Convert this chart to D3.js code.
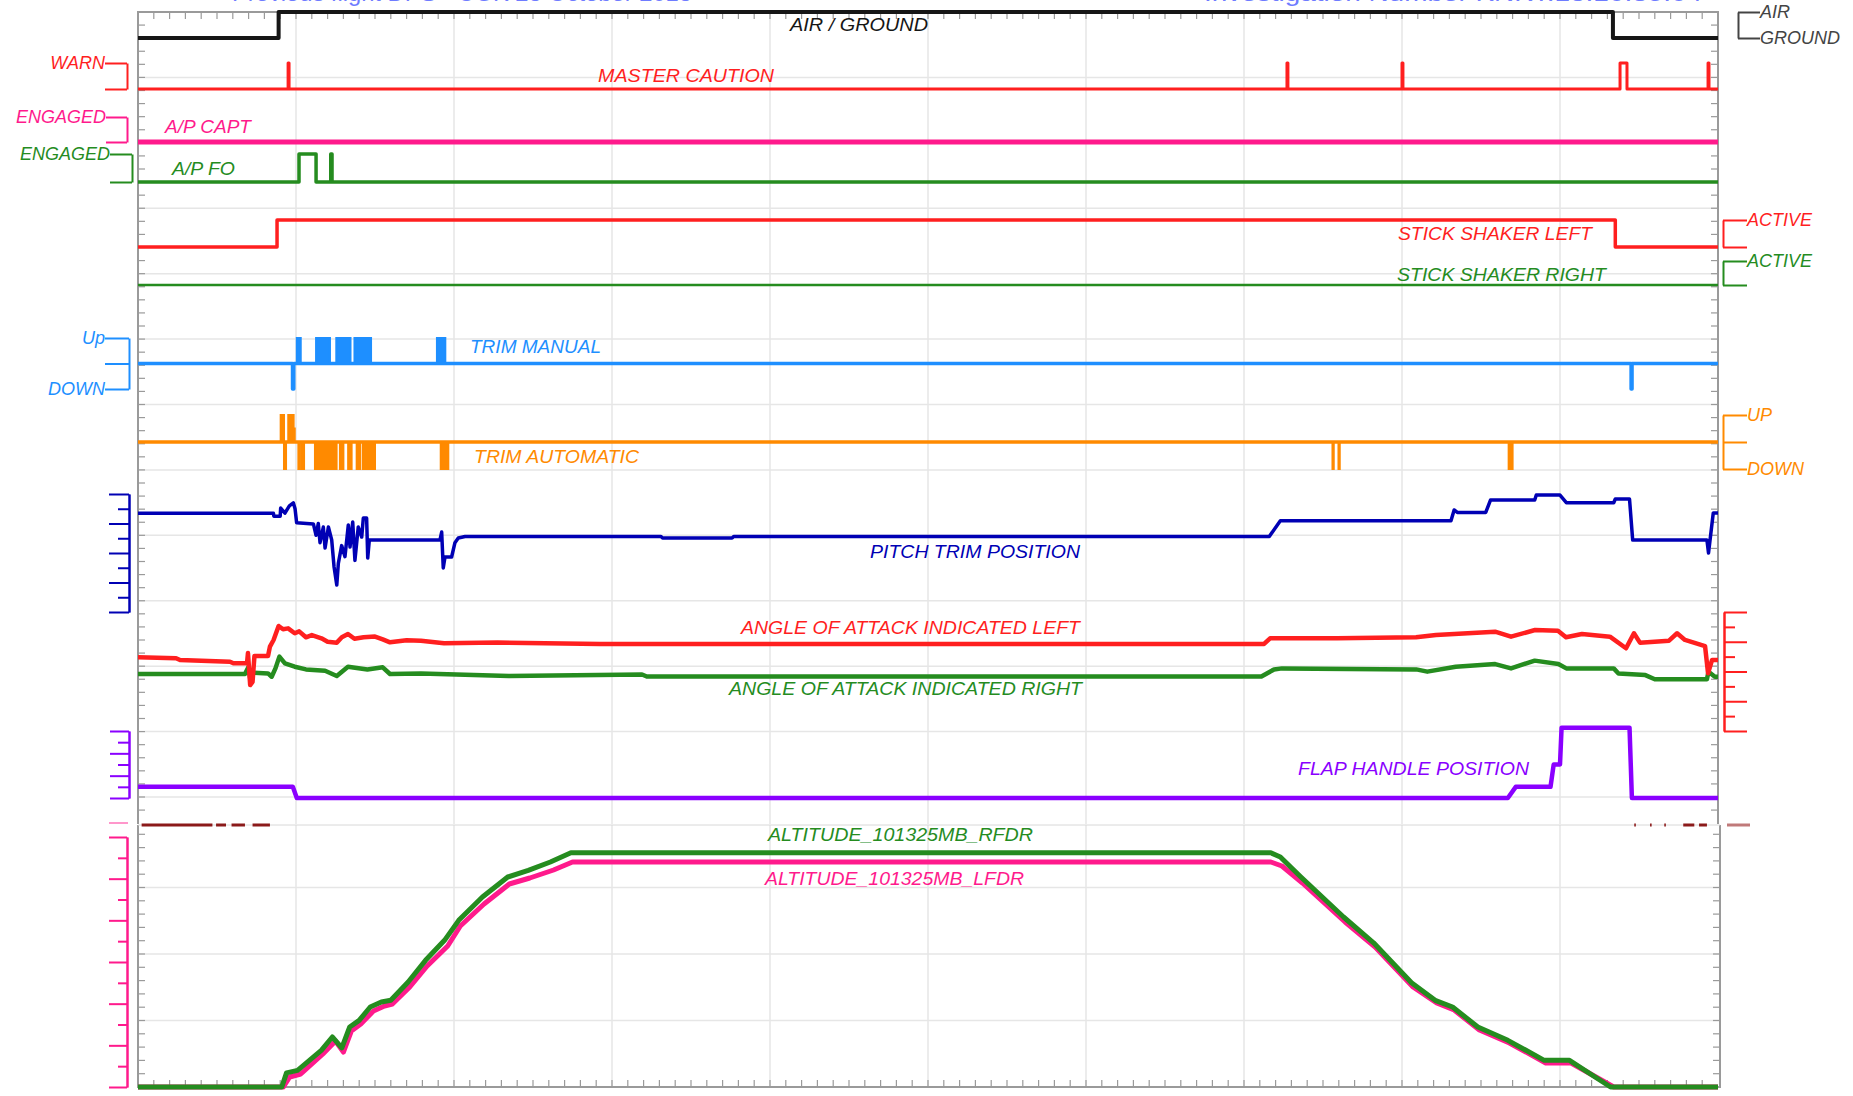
<!DOCTYPE html>
<html><head><meta charset="UTF-8">
<script src="https://cdn.jsdelivr.net/npm/d3@7"></script>
<style>
body{margin:0;background:#fff;overflow:hidden}
svg text{font-family:"Liberation Sans",Arial,sans-serif;font-style:italic}
.lab{font-size:19px}
.axlab{font-size:18px}
.title{font-size:22px;font-style:normal}
</style></head><body><svg id="chart" width="1853" height="1096"></svg>
<script>
// time runs 0..100 across the recording (10 grid divisions)
// step signals: [time, state]
const airGround = [[0,0],[8.9,1],[93.35,0],[100,0]];
const masterCaution = [[0,0],[9.5,1],[9.56,0],[72.72,1],[72.78,0],[80.0,1],[80.06,0],[93.8,1],[94.24,0],[99.37,1],[99.43,0],[100,0]];
const apCapt = [[0,0],[100,0]];
const apFo = [[0,0],[10.19,1],[11.27,0],[12.2,1],[12.28,0],[100,0]];
const shakerLeft = [[0,0],[8.8,1],[93.5,0],[100,0]];
const shakerRight = [[0,0],[100,0]];
const trimManual = [[0,0],[9.78,-1],[9.86,0],[94.5,-1],[94.56,0],[100,0]];
const trimAuto = [[0,0],[100,0]];
// rapid switching: [start, end, state]
const trimManualBursts = [[10.05,10.3,1],[11.27,12.15,1],[12.55,13.45,1],[13.7,14.75,1],[18.92,19.45,1]];
const trimAutoBursts = [[9.03,9.1,1],[9.16,9.24,1],[9.24,9.37,-1],[9.51,9.85,1],[9.85,9.92,0.5],[10.15,10.25,-1],[10.36,10.51,-1],[11.2,12.57,-1],[12.78,13.0,-1],[13.3,13.52,-1],[13.84,14.05,-1],[14.22,15.0,-1],[19.16,19.64,-1],[75.6,75.68,-1],[75.98,76.06,-1],[86.75,87.0,-1]];

// continuous signals: [time, value in axis divisions]
const pitchTrim = [[0,6.7],[8.57,6.7],[8.6,6.5],[9.0,6.5],[9.03,7.05],[9.3,6.7],[9.58,7.2],[9.83,7.4],[9.94,7.0],[10.04,6.05],[11.1,5.97],[11.27,5.2],[11.41,6.0],[11.52,4.7],[11.73,5.76],[11.84,4.34],[12.05,5.76],[12.26,4.88],[12.41,3.05],[12.58,1.83],[12.68,3.3],[12.89,4.5],[13.1,3.75],[13.31,5.9],[13.42,4.4],[13.59,6.1],[13.73,3.5],[13.94,5.76],[14.16,5.08],[14.26,6.37],[14.47,6.37],[14.54,3.66],[14.64,4.88],[19.11,4.88],[19.22,5.42],[19.32,2.98],[19.43,3.73],[19.85,3.73],[20.06,4.7],[20.27,5.02],[20.7,5.12],[33.1,5.12],[33.2,5.02],[37.6,5.02],[37.7,5.12],[71.6,5.12],[72.3,6.19],[83.1,6.19],[83.3,6.92],[83.5,6.75],[85.3,6.75],[85.6,7.59],[88.4,7.59],[88.5,7.93],[90.0,7.93],[90.4,7.41],[93.4,7.41],[93.5,7.66],[94.4,7.66],[94.6,4.88],[99.3,4.88],[99.4,4.0],[99.7,6.71],[100,6.71]];
const aoaLeft = [[0,4.95],[2.41,4.89],[2.66,4.77],[5.82,4.66],[6.04,4.55],[6.9,4.55],[6.96,5.24],[7.1,3.09],[7.25,3.3],[7.37,5.04],[8.23,5.04],[8.35,5.67],[8.58,6.12],[8.9,7.06],[9.18,6.84],[9.5,6.9],[9.92,6.57],[10.2,6.7],[10.63,6.3],[11.0,6.45],[11.61,6.23],[12.0,6.0],[12.58,5.94],[12.9,6.3],[13.29,6.52],[13.7,6.2],[14.28,6.3],[15.0,6.35],[15.49,6.16],[15.95,5.96],[17.0,6.1],[17.91,6.07],[19.37,5.9],[22.75,5.95],[29.24,5.85],[71.27,5.85],[71.65,6.23],[75.89,6.23],[80.89,6.3],[82.15,6.45],[85.89,6.68],[86.9,6.34],[88.42,6.79],[89.87,6.74],[90.38,6.3],[91.39,6.52],[93.16,6.34],[94.18,5.56],[94.68,6.57],[95.06,5.94],[96.9,6.07],[97.41,6.57],[97.91,6.12],[99.18,5.71],[99.37,3.88],[99.62,4.77],[100,4.77]];
const aoaRight = [[0,3.83],[6.77,3.83],[7.0,4.32],[7.1,3.54],[7.25,3.92],[8.23,3.87],[8.46,3.65],[8.7,4.21],[8.95,5.0],[9.3,4.55],[9.92,4.32],[10.63,4.14],[11.84,4.05],[12.58,3.7],[13.29,4.32],[14.52,4.14],[15.49,4.28],[15.95,3.83],[17.91,3.87],[23.48,3.7],[31.9,3.8],[32.2,3.66],[71.1,3.66],[71.9,4.14],[72.4,4.21],[80.9,4.14],[81.6,3.99],[83.4,4.32],[85.9,4.5],[86.9,4.21],[88.4,4.73],[89.9,4.5],[90.4,4.21],[93.4,4.21],[93.7,3.87],[95.4,3.76],[96.0,3.48],[99.3,3.48],[99.4,3.99],[99.8,3.65],[100,3.65]];
const flapHandle = [[0,1],[9.8,1],[10.05,0],[86.7,0],[87.2,1],[89.4,1],[89.6,3],[90.0,3],[90.1,6.3],[94.4,6.3],[94.55,0],[100,0]];
// altitude, ft
const altRfdr = [[0,0],[9.1,0],[9.4,1700],[10.1,2000],[11.6,4400],[12.3,6000],[12.9,4700],[13.4,7200],[14.0,8000],[14.7,9600],[15.4,10200],[16.0,10400],[17.1,12600],[18.2,15200],[19.4,17600],[20.3,20000],[21.8,22800],[23.4,25200],[24.7,26000],[26.1,27000],[27.4,28100],[71.7,28100],[72.3,27600],[73.6,25200],[76.3,20400],[78.2,17300],[80.6,12500],[82.1,10400],[83.2,9600],[84.8,7200],[86.7,5600],[89.0,3200],[90.6,3200],[93.2,0],[100,0]];
const altLfdr = [[0,0],[9.2,0],[9.6,1200],[10.3,1560],[11.7,3960],[12.5,5520],[13.0,4200],[13.5,6720],[14.1,7560],[14.9,9120],[15.6,9720],[16.1,9960],[17.2,12000],[18.3,14520],[19.6,16920],[20.4,19320],[21.9,21960],[23.5,24360],[24.8,25080],[26.3,26040],[27.5,27000],[71.7,27000],[72.4,26520],[73.7,24480],[76.4,19800],[78.3,16800],[80.7,12000],[82.2,10080],[83.3,9240],[84.9,6840],[86.8,5280],[89.1,2880],[90.7,2880],[93.4,0],[100,0]];
// partly hidden trace between the panels: [start, end]
const hiddenTrace = [[0.23,4.71],[4.94,5.57],[5.92,6.77],[7.25,8.35],[94.7,94.8],[95.7,95.8],[96.6,96.7],[97.8,98.5],[98.8,99.3]];

const C = {black:"#161616", red:"#ff1f1f", pink:"#ff1a8c", green:"#258c1f", sky:"#1e8fff", orange:"#ff8a00", navy:"#0000b4", purple:"#8a00ff", gray:"#444"};

const svg = d3.select("#chart");
const x = d3.scaleLinear().domain([0, 100]).range([138, 1718]);
const gy = d3.scaleLinear().domain([0, 12]).range([12, 797]);      // upper grid rows
const ly = d3.scaleLinear().domain([0, 4]).range([1087, 821]);     // lower grid rows

// track scales
const yAir = d3.scaleLinear().domain([0, 1]).range([38, 12]);
const yCaution = d3.scaleLinear().domain([0, 1]).range([89, 63]);
const yCapt = d3.scaleLinear().domain([0, 1]).range([142, 117]);
const yFo = d3.scaleLinear().domain([0, 1]).range([182, 154]);
const yShakL = d3.scaleLinear().domain([0, 1]).range([247, 220]);
const yShakR = d3.scaleLinear().domain([0, 1]).range([285, 261]);
const yTrimM = d3.scaleLinear().domain([-1, 1]).range([389, 338]);
const yTrimA = d3.scaleLinear().domain([-1, 1]).range([469, 415]);
const yPitch = d3.scaleLinear().domain([0, 8]).range([612, 494]);
const yAoa = d3.scaleLinear().domain([0, 8]).range([731, 612]);
const yFlap = d3.scaleLinear().domain([0, 6]).range([798, 731]);
const yAlt = d3.scaleLinear().domain([0, 30000]).range([1087, 837]);

// grid
const grid = svg.append("g").attr("stroke", "#e6e6e6").attr("stroke-width", 1.5);
d3.range(10, 100, 10).forEach(t => {
  grid.append("line").attr("x1", x(t)).attr("x2", x(t)).attr("y1", 12).attr("y2", 824);
  grid.append("line").attr("x1", x(t)).attr("x2", x(t)).attr("y1", 825).attr("y2", 1087);
});
d3.range(1, 13).forEach(k => grid.append("line").attr("x1", 138).attr("x2", 1718).attr("y1", gy(k)).attr("y2", gy(k)));
d3.range(1, 4).forEach(k => grid.append("line").attr("x1", 138).attr("x2", 1720).attr("y1", ly(k)).attr("y2", ly(k)));

// frames + minor ticks
const frame = svg.append("g").attr("stroke", "#9a9a9a").attr("fill", "none");
frame.append("path").attr("stroke-width", 2).attr("d", "M138,824V12H1718V824");
frame.append("path").attr("stroke-width", 2).attr("d", "M138,825V1087H1720V825");
frame.append("line").attr("x1", 138).attr("x2", 1720).attr("y1", 825).attr("y2", 825).attr("stroke", "#d8d8d8");
const minor = svg.append("g").attr("stroke", "#9a9a9a").attr("stroke-width", 1.2);
d3.range(1, 100).forEach(t => {
  minor.append("line").attr("x1", x(t)).attr("x2", x(t)).attr("y1", 12).attr("y2", 19);
  minor.append("line").attr("x1", x(t)).attr("x2", x(t)).attr("y1", 1087).attr("y2", 1080);
});
d3.range(0.2, 12.4, 0.2).forEach(k => {
  minor.append("line").attr("x1", 138).attr("x2", 145).attr("y1", gy(k)).attr("y2", gy(k));
  minor.append("line").attr("x1", 1711).attr("x2", 1718).attr("y1", gy(k)).attr("y2", gy(k));
});
d3.range(0.2, 3.9, 0.2).forEach(k => {
  minor.append("line").attr("x1", 138).attr("x2", 145).attr("y1", ly(k)).attr("y2", ly(k));
  minor.append("line").attr("x1", 1713).attr("x2", 1720).attr("y1", ly(k)).attr("y2", ly(k));
});

// title (cut off by the top edge, as in the source)
svg.append("text").attr("class", "title").attr("x", 232).attr("y", 1).attr("fill", "#6f7cff")
  .attr("textLength", 460).attr("lengthAdjust", "spacingAndGlyphs").text("Previous flight DPS - CGK 28 October 2018");
svg.append("text").attr("class", "title").attr("x", 1204).attr("y", 1).attr("fill", "#6f7cff")
  .attr("textLength", 498).attr("lengthAdjust", "spacingAndGlyphs").text("Investigation Number KNKT.18.10.35.04");

// traces
function trace(data, y, color, w, curve) {
  svg.append("path").datum(data)
    .attr("fill", "none").attr("stroke", color).attr("stroke-width", w).attr("stroke-linejoin", "round")
    .attr("d", d3.line().x(d => x(d[0])).y(d => y(d[1])).curve(curve || d3.curveLinear));
}
function bursts(data, y, color) {
  svg.append("g").selectAll("rect").data(data).join("rect")
    .attr("x", d => x(d[0])).attr("width", d => x(d[1]) - x(d[0]))
    .attr("y", d => Math.min(y(0), y(d[2]))).attr("height", d => Math.abs(y(d[2]) - y(0)))
    .attr("fill", color).attr("stroke", color).attr("stroke-width", 2);
}
const step = d3.curveStepAfter;
trace(airGround, yAir, C.black, 4, step);
trace(masterCaution, yCaution, C.red, 3, step);
trace(apCapt, yCapt, C.pink, 5, step);
trace(apFo, yFo, C.green, 3.5, step);
trace(shakerLeft, yShakL, C.red, 3.5, step);
trace(shakerRight, yShakR, C.green, 2.5, step);
trace(trimManual, yTrimM, C.sky, 3.5, step);
bursts(trimManualBursts, yTrimM, C.sky);
trace(trimAuto, yTrimA, C.orange, 3.5, step);
bursts(trimAutoBursts, yTrimA, C.orange);
trace(pitchTrim, yPitch, C.navy, 3.5);
trace(aoaRight, yAoa, C.green, 4.5);
trace(aoaLeft, yAoa, C.red, 4.5);
trace(flapHandle, yFlap, C.purple, 4.5);
trace(altLfdr, yAlt, C.pink, 5);
trace(altRfdr, yAlt, C.green, 5);

svg.append("g").selectAll("line").data(hiddenTrace).join("line")
  .attr("x1", d => x(d[0])).attr("x2", d => x(d[1])).attr("y1", 825).attr("y2", 825)
  .attr("stroke", "#8b1a1a").attr("stroke-width", 3);
svg.append("line").attr("x1", 1727).attr("x2", 1750).attr("y1", 825).attr("y2", 825).attr("stroke", "#c07a7a").attr("stroke-width", 3);
svg.append("line").attr("x1", 109).attr("x2", 128).attr("y1", 823).attr("y2", 823).attr("stroke", C.pink).attr("stroke-width", 1.5).attr("opacity", 0.6);

// bracket axes
function bracket(scale, side, xPos, values, labels, color, len) {
  const ax = (side === "left" ? d3.axisLeft(scale) : d3.axisRight(scale))
    .tickValues(values).tickSize(len).tickSizeOuter(0).tickPadding(0)
    .tickFormat(d => labels[values.indexOf(d)] || "");
  const g = svg.append("g").attr("transform", `translate(${xPos},0)`).attr("color", color).call(ax);
  g.selectAll("line,path").attr("stroke-width", 2);
  g.selectAll("text").attr("class", "axlab");
}
bracket(yCaution, "left", 127, [0, 1], ["", "WARN"], C.red, 22);
bracket(yCapt, "left", 127, [0, 1], ["", "ENGAGED"], C.pink, 21);
bracket(yFo, "left", 132, [0, 1], ["", "ENGAGED"], C.green, 22);
bracket(yTrimM, "left", 129, [-1, 0, 1], ["DOWN", "", "Up"], C.sky, 24);
bracket(yPitch, "left", 129, [0, 2, 4, 6, 8], [], C.navy, 20);
bracket(yPitch, "left", 129, [1, 3, 5, 7], [], C.navy, 11);
bracket(yFlap, "left", 129, [0, 2, 4, 6], [], C.purple, 19);
bracket(yFlap, "left", 129, [1, 3, 5], [], C.purple, 11);
bracket(yAlt, "left", 127, d3.range(0, 30001, 5000), [], C.pink, 18);
bracket(yAlt, "left", 127, d3.range(2500, 30000, 5000), [], C.pink, 9);
bracket(yAir, "right", 1738, [0, 1], ["GROUND", "AIR"], C.gray, 22);
bracket(yShakL, "right", 1723, [0, 1], ["", "ACTIVE"], C.red, 24);
bracket(yShakR, "right", 1723, [0, 1], ["", "ACTIVE"], C.green, 24);
bracket(yTrimA, "right", 1723, [-1, 0, 1], ["DOWN", "", "UP"], C.orange, 24);
bracket(yAoa, "right", 1724, [0, 2, 4, 6, 8], [], C.red, 23);
bracket(yAoa, "right", 1724, [1, 3, 5, 7], [], C.red, 11);

// trace names: [text, x, baseline, width, colour]
const names = [
  ["AIR / GROUND", 790, 31, 138, C.black],
  ["MASTER CAUTION", 598, 82, 176, C.red],
  ["A/P CAPT", 165, 133, 86, C.pink],
  ["A/P FO", 172, 175, 63, C.green],
  ["STICK SHAKER LEFT", 1398, 240, 194, C.red],
  ["STICK SHAKER RIGHT", 1397, 281, 209, C.green],
  ["TRIM MANUAL", 470, 353, 131, C.sky],
  ["TRIM AUTOMATIC", 474, 463, 165, C.orange],
  ["PITCH TRIM POSITION", 870, 558, 210, C.navy],
  ["ANGLE OF ATTACK INDICATED LEFT", 741, 634, 339, C.red],
  ["ANGLE OF ATTACK INDICATED RIGHT", 729, 695, 353, C.green],
  ["FLAP HANDLE POSITION", 1298, 775, 231, C.purple],
  ["ALTITUDE_101325MB_RFDR", 768, 841, 265, C.green],
  ["ALTITUDE_101325MB_LFDR", 765, 885, 259, C.pink]
];
svg.append("g").selectAll("text").data(names).join("text")
  .attr("class", "lab").attr("x", d => d[1]).attr("y", d => d[2])
  .attr("textLength", d => d[3]).attr("lengthAdjust", "spacingAndGlyphs")
  .attr("fill", d => d[4]).text(d => d[0]);
</script></body></html>
